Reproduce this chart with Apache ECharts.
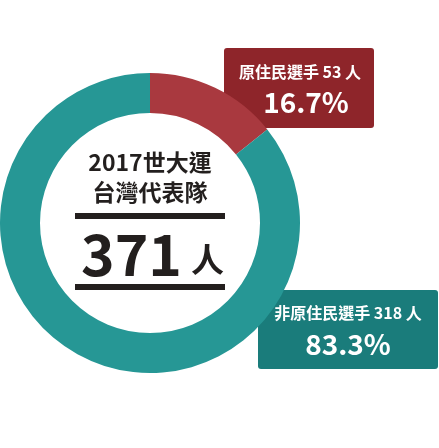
<!DOCTYPE html>
<html><head><meta charset="utf-8">
<script src="https://cdn.jsdelivr.net/npm/echarts@6/dist/echarts.min.js"></script>
<style>html,body{margin:0;padding:0;background:#fff}#c{width:439px;height:448px}</style>
</head><body><div id="c"></div>
<script>
const categories = ['原住民選手', '非原住民選手'];
const counts = [53, 318];
const percents = ['16.7%', '83.3%'];
const total = 371;
const titleLines = ['2017世大運', '台灣代表隊'];

const F = '"Noto Sans CJK TC","Noto Sans",sans-serif';
const chart = echarts.init(document.getElementById('c'), null, {renderer: 'canvas'});
chart.setOption({
  animation: false,
  series: [{
    type: 'pie',
    radius: [110, 150],
    center: [150, 223],
    startAngle: 90,
    clockwise: true,
    label: {show: false},
    labelLine: {show: false},
    emphasis: {disabled: true},
    silent: true,
    data: categories.map((c, i) => ({name: c, value: counts[i], itemStyle: {color: i === 0 ? '#a9393f' : '#269795'}}))
  }],
  graphic: [
    {type: 'rect', shape: {x: 224, y: 48, width: 150, height: 80, r: 3}, style: {fill: '#8e252a'}},
    {type: 'text', x: 300, y: 72, style: {text: categories[0] + ' ' + counts[0] + ' 人', font: 'bold 16px ' + F, fill: '#fff', align: 'center', verticalAlign: 'middle'}},
    {type: 'text', x: 306, y: 102, style: {text: percents[0], font: 'bold 28px ' + F, fill: '#fff', align: 'center', verticalAlign: 'middle'}},
    {type: 'rect', shape: {x: 258, y: 290, width: 180, height: 79, r: 3}, style: {fill: '#1a7c7b'}},
    {type: 'text', x: 348, y: 313, style: {text: categories[1] + ' ' + counts[1] + ' 人', font: 'bold 16px ' + F, fill: '#fff', align: 'center', verticalAlign: 'middle'}},
    {type: 'text', x: 348, y: 344, style: {text: percents[1], font: 'bold 28px ' + F, fill: '#fff', align: 'center', verticalAlign: 'middle'}},
    {type: 'text', x: 150, y: 162, style: {text: titleLines[0], font: 'bold 23px ' + F, fill: '#231f1e', align: 'center', verticalAlign: 'middle'}},
    {type: 'text', x: 150, y: 192, style: {text: titleLines[1], font: 'bold 23px ' + F, fill: '#231f1e', align: 'center', verticalAlign: 'middle'}},
    {type: 'rect', shape: {x: 75, y: 213, width: 150, height: 6}, style: {fill: '#231f1e'}},
    {type: 'rect', shape: {x: 75, y: 284, width: 150, height: 6}, style: {fill: '#231f1e'}},
    {type: 'text', x: 182, y: 254, style: {text: String(total), font: 'bold 57px ' + F, fill: '#231f1e', align: 'right', verticalAlign: 'middle'}},
    {type: 'text', x: 191, y: 259, style: {text: '人', font: 'bold 33px ' + F, fill: '#231f1e', align: 'left', verticalAlign: 'middle'}}
  ]
});
</script></body></html>
